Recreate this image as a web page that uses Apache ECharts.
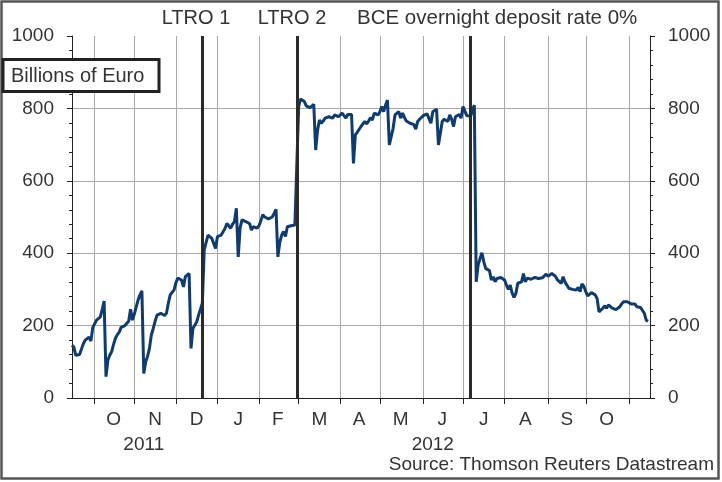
<!DOCTYPE html>
<html>
<head>
<meta charset="utf-8">
<script src="https://cdn.jsdelivr.net/npm/echarts@6/dist/echarts.min.js"></script>
<style>
html,body{margin:0;padding:0;background:#fff;}
#c{width:722px;height:482px;}
</style>
</head>
<body>
<div id="c"></div>
<script>
// ---- data (billions of euro, one value per business day) ----
const startDate = '2011-09-15';
const dayCount = 307;            // business days on the axis (Sep 15 2011 .. Nov 16 2012)

const sep2011 = [146,140,118,114,120,135,150,160,163,168,157,195];
const oct2011 = [205,215,218,224,245,268,59,105,118,128,148,165,175,182,195,198,200,202,212,245,215];
const nov2011 = [232,252,271,285,296,68,100,115,137,174,192,212,229,232,234,229,228,234,262,285,292,298];
const dec2011 = [318,331,328,326,307,335,340,344,137,192,197,210,229,245,262,409,413,450,445,441,446,413];
const jan2012 = [446,441,450,455,468,482,478,469,480,487,524,390,470,492,490,487,485,482,464,473,470,469];
const feb2012 = [476,490,506,500,497,495,492,500,510,521,390,430,450,460,446,473,475,476,475,478,482];
const mar2012 = [805,826,822,819,807,805,802,798,811,685,740,768,759,765,773,770,777,775,773,782,779,777];
const apr2012 = [779,787,780,773,783,783,783,648,727,734,734,750,745,764,757,765,774,768,787,784,782];
const may2012 = [791,805,791,809,823,699,694,745,782,787,791,773,787,775,765,766,759,757,755,743,764,770,773];
const jun2012 = [780,782,785,787,759,791,795,798,699,696,764,770,773,764,782,770,750,777,780,783,773];
const jul2012 = [805,800,780,779,778,795,809,321,367,385,401,377,358,354,352,326,335,321,330,335,333,330];
const aug2012 = [326,312,300,312,290,278,289,317,320,321,344,321,331,330,328,330,333,328,330,331,332,333,342];
const sep2012 = [336,340,344,340,336,326,322,317,335,320,312,303,298,300,299,298,306,294,315,308];
const oct2012 = [294,282,287,291,288,285,275,238,242,248,254,248,257,252,248,243,244,243,252,260,266,271,266];
const nov2012 = [263,260,262,260,252,254,250,245,234,215,212];

const monthLetters = ['J','F','M','A','M','J','J','A','S','O','N','D'];
const eventDates = ['2011-12-21','2012-02-29','2012-07-06'];
const eventLabels = ['LTRO 1','LTRO 2','BCE overnight deposit rate 0%'];
const unitLabel = 'Billions of Euro';
const sourceLabel = 'Source: Thomson Reuters Datastream';

// ---- build ----
function businessDays(start, n) {
  const out = [];
  const d = new Date(start + 'T00:00:00Z');
  while (out.length < n) {
    const w = d.getUTCDay();
    if (w !== 0 && w !== 6) out.push(d.toISOString().slice(0, 10));
    d.setUTCDate(d.getUTCDate() + 1);
  }
  return out;
}
const categories = businessDays(startDate, dayCount);
const values = [].concat(sep2011, oct2011, nov2011, dec2011, jan2012, feb2012, mar2012,
  apr2012, may2012, jun2012, jul2012, aug2012, sep2012, oct2012, nov2012);

// month groups
const groups = [];
categories.forEach((c, i) => {
  const key = c.slice(0, 7);
  if (!groups.length || groups[groups.length - 1].key !== key) groups.push({key, start: i, end: i});
  else groups[groups.length - 1].end = i;
});
const monthStart = new Set(groups.slice(1).map(g => g.start));
const monthMid = new Set(groups.slice(1, groups.length - 1).map(g => g.start + Math.floor((g.end - g.start + 1) / 2)));
// year groups
const yGroups = [];
categories.forEach((c, i) => {
  const key = c.slice(0, 4);
  if (!yGroups.length || yGroups[yGroups.length - 1].key !== key) yGroups.push({key, start: i, end: i});
  else yGroups[yGroups.length - 1].end = i;
});
const yearMid = new Set(yGroups.map(g => Math.floor((g.start + g.end) / 2)));

const FONT = '"Liberation Sans", Arial, sans-serif';
const TXT = '#333';
const GRID = '#a8a8a8';
const AX = '#222';

const chart = echarts.init(document.getElementById('c'), null, {width: 722, height: 482, renderer: 'canvas'});

const yAxisCommon = {
  type: 'value', min: 0, max: 1000, interval: 200,
  axisLine: {show: true, lineStyle: {color: AX, width: 1}},
  axisTick: {show: true, length: 5, lineStyle: {color: AX}},
  minorTick: {show: true, splitNumber: 5, length: 3, lineStyle: {color: AX}},
  axisLabel: {fontSize: 19, color: TXT, fontFamily: FONT, margin: 18, formatter: (v) => String(v)}
};

chart.setOption({
  animation: false,
  backgroundColor: '#fff',
  grid: {left: 72, right: 72, top: 36, bottom: 84, containLabel: false},
  xAxis: [{
    type: 'category', data: categories, boundaryGap: false,
    axisLine: {lineStyle: {color: AX, width: 1}},
    axisTick: {show: true, length: 6, interval: (i) => monthStart.has(i), lineStyle: {color: AX}},
    splitLine: {show: true, interval: (i) => monthStart.has(i), lineStyle: {color: GRID, width: 1}},
    axisLabel: {
      interval: (i) => monthMid.has(i),
      formatter: (v) => monthLetters[parseInt(v.slice(5, 7), 10) - 1],
      fontSize: 19, color: TXT, fontFamily: FONT, margin: 12
    }
  }, {
    type: 'category', data: categories, boundaryGap: false, position: 'bottom', offset: 25,
    axisLine: {show: false}, axisTick: {show: false}, splitLine: {show: false},
    axisLabel: {
      interval: (i) => yearMid.has(i),
      formatter: (v) => v.slice(0, 4),
      fontSize: 19, color: TXT, fontFamily: FONT, margin: 12
    }
  }],
  yAxis: [
    Object.assign({}, yAxisCommon, {position: 'left',
      splitLine: {show: true, showMaxLine: false, lineStyle: {color: GRID, width: 1}}}),
    Object.assign({}, yAxisCommon, {position: 'right', splitLine: {show: false}})
  ],
  series: [{
    type: 'line', data: values, xAxisIndex: 0, yAxisIndex: 0,
    showSymbol: false, symbol: 'none',
    lineStyle: {color: '#0f3b6f', width: 3},
    markLine: {
      silent: true, symbol: 'none', animation: false,
      label: {show: false},
      lineStyle: {color: '#2a2a2a', width: 3, type: 'solid'},
      data: eventDates.map(d => ({xAxis: d}))
    }
  }],
  graphic: [
    {type: 'rect', z: 100, shape: {x: 1.5, y: 1.5, width: 717, height: 477},
     style: {fill: 'none', stroke: '#555', lineWidth: 2.5}},
    {type: 'text', z: 100, x: 196, y: 18, style: {text: eventLabels[0], fontSize: 20, fontFamily: FONT, fill: TXT, textAlign: 'center', textVerticalAlign: 'middle'}},
    {type: 'text', z: 100, x: 292, y: 18, style: {text: eventLabels[1], fontSize: 20, fontFamily: FONT, fill: TXT, textAlign: 'center', textVerticalAlign: 'middle'}},
    {type: 'text', z: 100, x: 357, y: 18, style: {text: eventLabels[2], fontSize: 20.5, fontFamily: FONT, fill: TXT, textAlign: 'left', textVerticalAlign: 'middle'}},
    {type: 'rect', z: 100, shape: {x: 3, y: 59.5, width: 156, height: 32},
     style: {fill: '#fff', stroke: '#222', lineWidth: 3}},
    {type: 'text', z: 101, x: 11, y: 76, style: {text: unitLabel, fontSize: 20, fontFamily: FONT, fill: TXT, textAlign: 'left', textVerticalAlign: 'middle'}},
    {type: 'text', z: 100, x: 714, y: 465, style: {text: sourceLabel, fontSize: 19, fontFamily: FONT, fill: TXT, textAlign: 'right', textVerticalAlign: 'middle'}}
  ]
});
</script>
</body>
</html>
